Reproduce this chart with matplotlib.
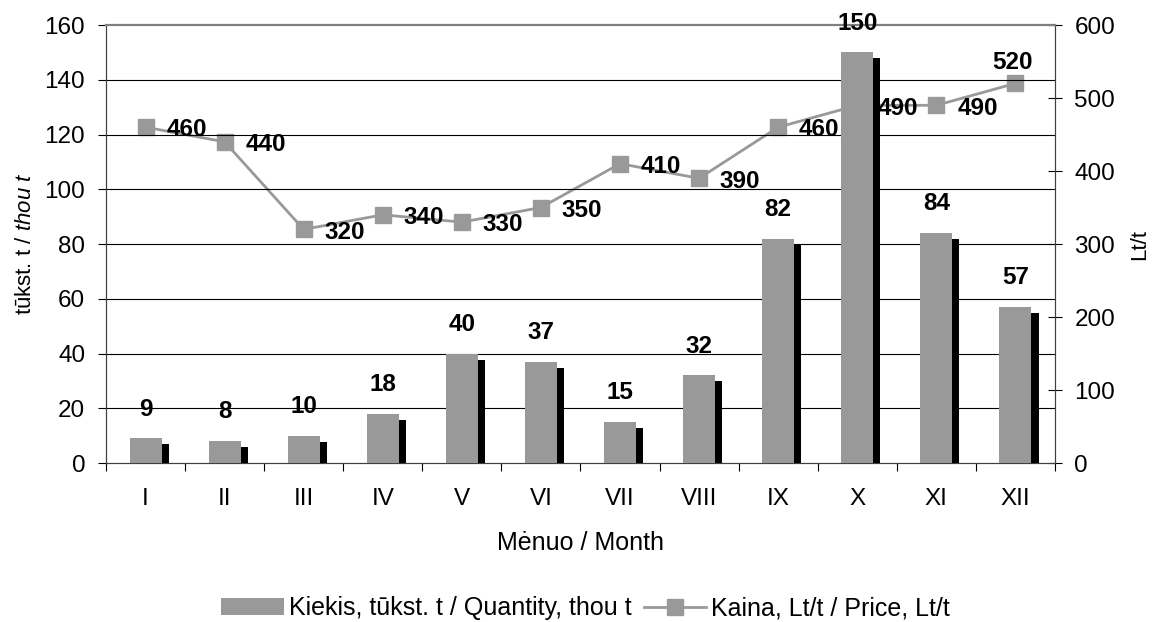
import matplotlib
matplotlib.use("Agg")
from matplotlib import pyplot as plt
from matplotlib.patches import Patch
from matplotlib.lines import Line2D
import numpy as np

plt.rcParams['font.family'] = ['Liberation Sans', 'DejaVu Sans']
plt.rcParams['mathtext.fontset'] = 'custom'
plt.rcParams['mathtext.rm'] = 'Liberation Sans'
plt.rcParams['mathtext.it'] = 'Liberation Sans:italic'

# duomenys / data
menesiai = ['I', 'II', 'III', 'IV', 'V', 'VI', 'VII', 'VIII', 'IX', 'X', 'XI', 'XII']
kiekis = [9, 8, 10, 18, 40, 37, 15, 32, 82, 150, 84, 57]
kaina = [460, 440, 320, 340, 330, 350, 410, 390, 460, 490, 490, 520]

pilka = '#999999'
x = np.arange(len(menesiai))

fig = plt.figure(figsize=(11.62, 6.22), dpi=100)
ax = fig.add_axes([0.0912, 0.2556, 0.8167, 0.7042])
ax2 = ax.twinx()

# kaina (desine asis), piesiama po stulpeliais
ax2.plot(x, kaina, color=pilka, linewidth=2, marker='s', markersize=12,
         markerfacecolor=pilka, markeredgecolor=pilka, zorder=2)
ax2.set_ylim(0, 600)
ax2.set_yticks(range(0, 601, 100))

# stulpeliai su seseliu
plotis = 0.405
ax.bar(x + 0.09, np.array(kiekis) - 2.2, width=plotis, color='black', zorder=3)
ax.bar(x, kiekis, width=plotis, color=pilka, zorder=4)
ax.set_ylim(0, 160)
ax.set_yticks(range(0, 161, 20))
ax.set_xlim(-0.5, len(menesiai) - 0.5)

ax.set_zorder(ax2.get_zorder() + 1)
ax.patch.set_visible(False)

for xi, v in zip(x, kiekis):
    ax.annotate(str(v), (xi, v), xytext=(0, 21), textcoords='offset points',
                ha='center', va='center', fontsize=17.5, fontweight='bold', zorder=6)

for i, (xi, v) in enumerate(zip(x, kaina)):
    if i == len(kaina) - 1:
        ax.annotate(str(v), (xi, v), xycoords=ax2.transData, xytext=(-2, 15),
                    textcoords='offset points', ha='center', va='center',
                    fontsize=17.5, fontweight='bold', zorder=6)
    else:
        ax.annotate(str(v), (xi, v), xycoords=ax2.transData, xytext=(15, -2),
                    textcoords='offset points', ha='left', va='center',
                    fontsize=17.5, fontweight='bold', zorder=6)

# tinklelis
for yv in range(20, 160, 20):
    ax.axhline(yv, color='black', linewidth=0.8, zorder=1)

# asys
ax.set_xticks(np.arange(-0.5, len(menesiai), 1.0))
ax.set_xticklabels([])
ax.set_xticks(x, minor=True)
ax.set_xticklabels(menesiai, minor=True, fontsize=17.5)
ax.tick_params(axis='x', which='major', direction='out', length=6, width=0.8)
ax.tick_params(axis='x', which='minor', length=0, pad=18)
ax.tick_params(axis='y', direction='out', length=6, width=0.8, labelsize=17.5, pad=9)
ax2.tick_params(axis='y', direction='inout', length=10, width=0.8, labelsize=17.5, pad=9)

for sp in ['left', 'bottom', 'right']:
    ax.spines[sp].set_color('#404040')
    ax2.spines[sp].set_color('#404040')
ax.spines['top'].set_color('#808080')
ax.spines['top'].set_linewidth(1.6)
ax2.spines['top'].set_visible(False)

ax.set_xlabel('Mėnuo / Month', fontsize=18, labelpad=15)
ax.set_ylabel('tūkst. t / $\\mathit{thou\\ t}$', fontsize=16, labelpad=6)
ax2.set_ylabel('Lt/t', fontsize=16, labelpad=10)

h1 = Patch(facecolor=pilka, edgecolor='none')
h2 = Line2D([], [], color=pilka, linewidth=2, marker='s', markersize=12)
fig.legend([h1, h2], ['Kiekis, tūkst. t / Quantity, thou t', 'Kaina, Lt/t / Price, Lt/t'],
           loc='center', bbox_to_anchor=(0.504, 0.022), ncol=2, frameon=False,
           fontsize=18, handlelength=2.5, handletextpad=0.2, columnspacing=0.5)

fig.savefig('out.png', dpi=100)
